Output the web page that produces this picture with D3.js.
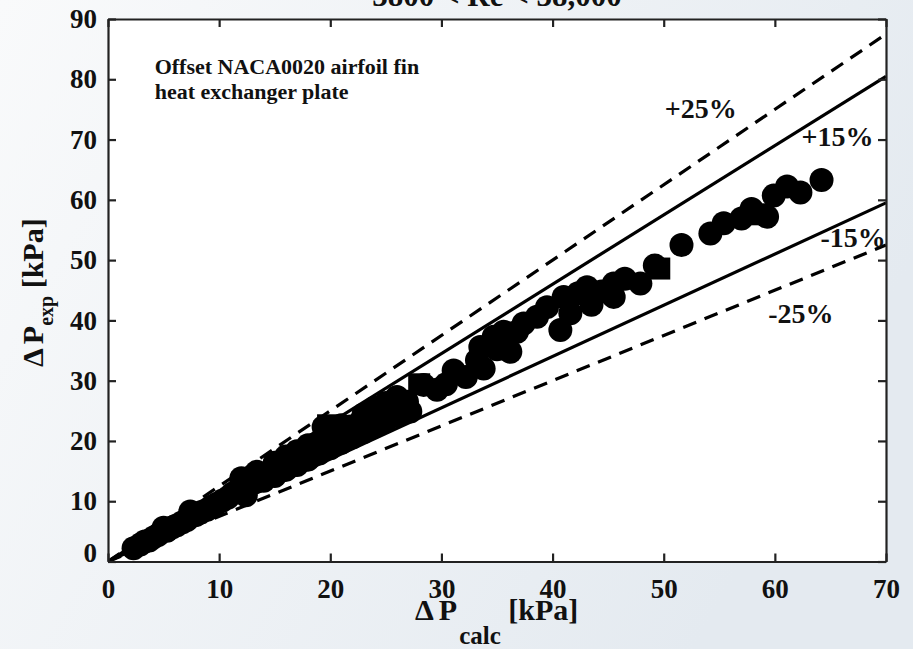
<!DOCTYPE html>
<html>
<head>
<meta charset="utf-8">
<script src="https://cdn.jsdelivr.net/npm/d3@7"></script>
<style>
  body { margin: 0; }
  svg { display: block; }
  text { font-family: "Liberation Serif", "Times New Roman", serif; font-weight: bold; fill: #111; }
</style>
</head>
<body>
<div id="chart"></div>
<script>
// Data (kPa)
var calcCircles = [2.3, 2.9, 3.3, 3.7, 4.1, 4.5, 5.0, 5.3, 5.8, 6.2, 6.7, 7.1, 7.4, 7.9, 8.4, 8.9, 9.3, 9.8,
  10.3, 10.8, 11.2, 11.7, 12.0, 12.4, 12.8, 13.4, 13.8, 14.3, 14.8, 15.3, 15.8, 16.3, 16.8, 17.3, 17.8, 18.3,
  18.8, 19.4, 19.9, 20.3, 20.8, 21.3, 21.8, 22.3, 22.8, 23.3, 23.8, 24.3, 24.8, 25.3, 25.8, 26.2, 26.9, 27.2,
  14.0, 15.0, 16.0, 17.0, 18.0, 19.0, 20.0, 21.0, 22.0, 23.0, 24.0, 25.0, 26.0,
  15.0, 16.0, 17.0, 18.0, 21.0, 23.0, 24.0, 25.0, 26.0,
  28.4, 29.6, 30.4, 31.1, 32.2, 33.2, 33.8, 33.5, 34.7, 35.0, 35.6, 36.2, 36.8, 37.4, 38.6, 39.5, 40.7, 41.0,
  41.6, 42.3, 43.1, 43.5, 44.4, 45.5, 45.5, 46.5, 47.9, 49.2, 51.6, 54.2, 55.4, 57.0, 57.9, 59.3, 59.9, 61.1,
  62.3, 64.2];
var expCircles = [2.2, 2.8, 3.3, 3.5, 4.0, 4.4, 5.6, 5.1, 5.7, 6.0, 6.5, 6.9, 8.3, 7.7, 8.2, 8.6, 9.1, 9.6,
  10.1, 10.6, 11.3, 11.9, 13.8, 11.0, 12.9, 14.9, 13.5, 14.4, 15.3, 14.9, 16.2, 16.0, 17.3, 16.9, 18.6, 17.9,
  19.6, 22.3, 20.4, 19.6, 21.6, 20.7, 22.4, 21.5, 23.4, 22.6, 24.5, 23.5, 25.4, 24.2, 26.5, 25.2, 26.5, 24.9,
  13.4, 14.2, 15.2, 16.0, 16.9, 17.9, 18.8, 19.7, 20.6, 21.5, 22.4, 23.3, 24.2,
  16.4, 17.4, 18.3, 19.3, 22.6, 24.4, 25.5, 26.3, 27.3,
  29.3, 28.5, 29.4, 31.7, 30.6, 33.4, 32.0, 35.6, 37.3, 35.2, 38.1, 34.8, 38.1, 39.5, 40.6, 42.2, 38.4, 43.9,
  41.2, 44.5, 45.5, 42.6, 44.8, 43.9, 46.1, 46.9, 46.1, 49.1, 52.5, 54.4, 56.1, 56.9, 58.5, 57.2, 60.7, 62.2,
  61.2, 63.3];
var calcSquares = [19.8, 28.0, 49.6, 58.8];
var expSquares = [22.6, 29.4, 48.6, 57.6];

var xTicks = [0, 10, 20, 30, 40, 50, 60, 70];
var yTicks = [0, 10, 20, 30, 40, 50, 60, 70, 80, 90];

// error band lines: factor, dashed?, label, label position (data units)
var bandFactors = [1.25, 1.15, 0.85, 0.75];
var bandDashed = [true, false, false, true];
var bandLabels = ["+25%", "+15%", "-15%", "-25%"];
var bandLabelX = [50.1, 62.4, 64.1, 59.4];
var bandLabelY = [73.5, 69.0, 52.2, 39.5];

var svgWidth = 913;
var svgHeight = 649;

var margin = { top: 19, right: 27, bottom: 87.5, left: 108 };
var width = svgWidth - margin.left - margin.right;
var height = svgHeight - margin.top - margin.bottom;

var svg = d3.select("#chart")
  .append("svg")
  .attr("width", svgWidth)
  .attr("height", svgHeight);

// light backdrop
var defs = svg.append("defs");
var grad = defs.append("linearGradient")
  .attr("id", "bg")
  .attr("x1", "0").attr("y1", "0").attr("x2", "1").attr("y2", "0.4");
grad.append("stop").attr("offset", "0").attr("stop-color", "#f9fafb");
grad.append("stop").attr("offset", "1").attr("stop-color", "#e4eaf0");

svg.append("rect")
  .attr("width", svgWidth)
  .attr("height", svgHeight)
  .attr("fill", "url(#bg)");

var chartGroup = svg.append("g")
  .attr("transform", `translate(${margin.left}, ${margin.top})`);

chartGroup.append("rect")
  .attr("width", width)
  .attr("height", height)
  .attr("fill", "white");

defs.append("clipPath")
  .attr("id", "plotclip")
  .append("rect")
  .attr("width", width)
  .attr("height", height);

var xScale = d3.scaleLinear().domain([0, 70]).range([0, width]);
var yScale = d3.scaleLinear().domain([0, 90]).range([height, 0]);

// error lines
var lineGroup = chartGroup.append("g").attr("clip-path", "url(#plotclip)");
bandFactors.forEach(function (f, i) {
  lineGroup.append("line")
    .attr("x1", xScale(0))
    .attr("y1", yScale(0))
    .attr("x2", xScale(70))
    .attr("y2", yScale(70 * f))
    .attr("stroke", "black")
    .attr("stroke-width", 3.2)
    .attr("stroke-dasharray", bandDashed[i] ? "14,9" : null);
});

// points
var pts = calcCircles.map(function (c, i) { return { calc: c, exp: expCircles[i] }; });
var sq = calcSquares.map(function (c, i) { return { calc: c, exp: expSquares[i] }; });

chartGroup.append("g").attr("clip-path", "url(#plotclip)")
  .selectAll("circle")
  .data(pts)
  .enter()
  .append("circle")
  .attr("cx", d => xScale(d.calc))
  .attr("cy", d => yScale(d.exp))
  .attr("r", 12)
  .attr("fill", "black");

chartGroup.append("g")
  .selectAll("rect")
  .data(sq)
  .enter()
  .append("rect")
  .attr("x", d => xScale(d.calc) - 11)
  .attr("y", d => yScale(d.exp) - 11)
  .attr("width", 22)
  .attr("height", 22)
  .attr("fill", "black");

// labels on the error lines
bandLabels.forEach(function (t, i) {
  chartGroup.append("text")
    .attr("x", xScale(bandLabelX[i]))
    .attr("y", yScale(bandLabelY[i]))
    .attr("font-size", "28px")
    .text(t);
});

// axes, ticks pointing inward
var bottomAxis = d3.axisBottom(xScale).tickValues(xTicks).tickSizeInner(-8).tickSizeOuter(0).tickPadding(17);
var leftAxis = d3.axisLeft(yScale).tickValues(yTicks).tickSizeInner(-8).tickSizeOuter(0).tickPadding(11);
var topAxis = d3.axisTop(xScale).tickValues(xTicks).tickSizeInner(-8).tickSizeOuter(0).tickFormat("");
var rightAxis = d3.axisRight(yScale).tickValues(yTicks).tickSizeInner(-8).tickSizeOuter(0).tickFormat("");

var gx = chartGroup.append("g").attr("transform", `translate(0, ${height})`).call(bottomAxis);
var gy = chartGroup.append("g").call(leftAxis);
var gt = chartGroup.append("g").call(topAxis);
var gr = chartGroup.append("g").attr("transform", `translate(${width}, 0)`).call(rightAxis);

[gx, gy, gt, gr].forEach(function (g) {
  g.attr("font-family", null);
  g.select(".domain").attr("stroke", "#222").attr("stroke-width", 2.2);
  g.selectAll(".tick line").attr("stroke", "#222").attr("stroke-width", 2.2);
  g.selectAll(".tick text")
    .attr("font-size", "27px")
    .attr("fill", "#111");
});
// y zero label sits a little higher
gy.selectAll(".tick text").filter(d => d === 0).attr("y", -9);

// annotation, slightly wide lettering as in the source
var note = chartGroup.append("text")
  .attr("transform", `translate(${xScale(4.2)}, ${yScale(80.8)}) scale(1.1, 1)`)
  .attr("font-size", "20px");
note.append("tspan").attr("x", 0).text("Offset NACA0020 airfoil fin");
note.append("tspan").attr("x", 0).attr("dy", 25).text("heat exchanger plate");

// title (partly cut at the top)
svg.append("text")
  .attr("x", margin.left + width / 2)
  .attr("y", 6)
  .attr("text-anchor", "middle")
  .attr("font-size", "31px")
  .text("3800 < Re < 38,000");

// x axis label
var xl = svg.append("text")
  .attr("x", 415)
  .attr("y", 620)
  .attr("font-size", "30px");
xl.append("tspan").text("\u0394");
xl.append("tspan").attr("dx", 5).text("P");
xl.append("tspan").attr("font-size", "25px").attr("dx", 2).attr("dy", 24).text("calc");
xl.append("tspan").attr("dy", -24).text(" [kPa]");

// y axis label
var yl = svg.append("text")
  .attr("transform", "translate(43, 367) rotate(-90)")
  .attr("font-size", "30px");
yl.append("tspan").text("\u0394");
yl.append("tspan").attr("dx", 4).text("P");
yl.append("tspan").attr("font-size", "20px").attr("dy", 10).text("exp");
yl.append("tspan").attr("dy", -10).text(" [kPa]");
</script>
</body>
</html>
